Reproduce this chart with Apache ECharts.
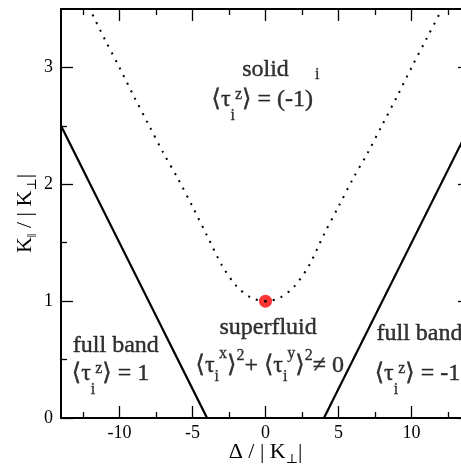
<!DOCTYPE html>
<html>
<head>
<meta charset="utf-8">
<script src="https://cdn.jsdelivr.net/npm/echarts@6/dist/echarts.min.js"></script>
<style>
  html, body { margin: 0; padding: 0; background: #fff; }
  #chart { width: 461px; height: 468px; }
</style>
</head>
<body>
<div id="chart"></div>
<script>
// phase boundaries
const leftBoundX = [-14, -4]
const leftBoundY = [2.5, 0]
const rightBoundX = [4, 14]
const rightBoundY = [0, 2.5]
// dotted solid/superfluid boundary
const solidX = [-12.4, -12, -11, -10, -9, -8, -7, -6, -5, -4, -3, -2, -1, 0, 1, 2, 3, 4, 5, 6, 7, 8, 9, 10, 11, 12, 12.4]
const solidY = [3.58, 3.49, 3.24, 3.0, 2.75, 2.51, 2.27, 2.05, 1.81, 1.56, 1.31, 1.13, 1.03, 1.0, 1.03, 1.13, 1.31, 1.57, 1.81, 2.05, 2.27, 2.51, 2.75, 3.0, 3.24, 3.48, 3.58]
// red point
const pointX = [0]
const pointY = [1]
// ticks
const xMajor = [-10, -5, 0, 5, 10]
const xMinor = [-12.5, -7.5, -2.5, 2.5, 7.5, 12.5]
const yMajor = [0, 1, 2, 3]
const yMinor = [0.5, 1.5, 2.5]
// region labels (centred ones)
const midNoteX = [0, 0, 0.18, 0.29]
const midNoteY = [2.98, 2.72, 0.77, 0.45]
const midNoteText = [
  '{b|solid}',
  '{b|⟨τ}{subA|i}{supA|z}{b|⟩ = (-1)}{expI|i}',
  '{b|superfluid}',
  '{b|⟨τ}{subB|i}{supB|x}{b|⟩}{sq|2}{b|+ ⟨τ}{subB|i}{supB|y}{b|⟩}{sq|2}{b|≠ 0}'
]
// region labels (left aligned ones)
const sideNoteX = [-13.19, -13.26, 7.6, 7.48]
const sideNoteY = [0.62, 0.376, 0.72, 0.376]
const sideNoteText = [
  '{b|full band}',
  '{b|⟨τ}{subA|i}{supA|z}{b|⟩ = 1}',
  '{b|full band}',
  '{b|⟨τ}{subA|i}{supA|z}{b|⟩ = -1}'
]

const serif = "'Liberation Serif', 'DejaVu Serif', serif"
const pairs = (xs, ys) => xs.map((x, i) => [x, ys[i]])

const small = { fontSize: 16, fontFamily: serif, color: '#000', textBorderColor: '#000', textBorderWidth: 0.3 }
const rich = {
  b: { fontSize: 24, fontFamily: serif, color: '#000', lineHeight: 80, textBorderColor: '#000', textBorderWidth: 0.4 },
  subA: Object.assign({}, small, { padding: [32, 0, 0, 0] }),
  supA: Object.assign({}, small, { padding: [0, 0, 10, 0] }),
  subB: Object.assign({}, small, { padding: [22, 0, 0, 0] }),
  supB: Object.assign({}, small, { padding: [0, 0, 24, 0] }),
  sq: Object.assign({}, small, { padding: [0, 0, 20, 0] }),
  expI: Object.assign({}, small, { padding: [0, 0, 50, 2] })
}
const axisRich = {
  n: { fontSize: 22, fontFamily: serif, color: '#000', lineHeight: 40 },
  s: { fontSize: 13, fontFamily: serif, color: '#000', padding: [16, 0, 0, 0] }
}

function xAxisOf(position, ticks, len, withLine, withLabel) {
  return {
    type: 'value',
    position: position,
    min: -14,
    max: 14,
    axisLine: { show: withLine, onZero: false, lineStyle: { color: '#000', width: 2 } },
    axisTick: { show: true, inside: true, length: len, customValues: ticks, lineStyle: { color: '#000', width: 1.3 } },
    axisLabel: withLabel
      ? { show: true, customValues: ticks, color: '#000', fontSize: 18, fontFamily: serif, margin: 6 }
      : { show: false },
    splitLine: { show: false }
  }
}
function yAxisOf(position, ticks, len, withLine, withLabel) {
  return {
    type: 'value',
    position: position,
    min: 0,
    max: 3.5,
    axisLine: { show: withLine, onZero: false, lineStyle: { color: '#000', width: 2 } },
    axisTick: { show: true, inside: true, length: len, customValues: ticks, lineStyle: { color: '#000', width: 1.3 } },
    axisLabel: withLabel
      ? { show: true, customValues: ticks, color: '#000', fontSize: 18, fontFamily: serif, margin: 8 }
      : { show: false },
    splitLine: { show: false }
  }
}

const xAxes = [
  xAxisOf('bottom', xMajor, 12, true, true),
  xAxisOf('bottom', xMinor, 6, false, false),
  xAxisOf('top', xMajor, 12, true, false),
  xAxisOf('top', xMinor, 6, false, false)
]
Object.assign(xAxes[0], {
  name: '{n|Δ / | K}{s|⊥}{n||}',
  nameLocation: 'middle',
  nameGap: 14,
  nameMoveOverlap: false,
  nameTextStyle: { rich: axisRich }
})
const yAxes = [
  yAxisOf('left', yMajor, 12, true, true),
  yAxisOf('left', yMinor, 6, false, false),
  yAxisOf('right', yMajor, 12, true, false),
  yAxisOf('right', yMinor, 6, false, false)
]
Object.assign(yAxes[0], {
  name: '{n|K}{s|‖}{n| / | K}{s|⊥}{n||}',
  nameLocation: 'middle',
  nameRotate: 90,
  nameGap: 16,
  nameMoveOverlap: false,
  nameTextStyle: { rich: axisRich }
})

const noteLabel = {
  show: true,
  position: 'inside',
  verticalAlign: 'middle',
  color: '#000',
  rich: rich
}

const chart = echarts.init(document.getElementById('chart'), null, { renderer: 'canvas' })
chart.setOption({
  backgroundColor: '#fff',
  animation: false,
  grid: { left: 61, right: -9, top: 9, bottom: 50, containLabel: false, outerBoundsMode: 'none' },
  xAxis: xAxes,
  yAxis: yAxes,
  series: [
    {
      name: 'left',
      type: 'line',
      data: pairs(leftBoundX, leftBoundY),
      symbol: 'none',
      lineStyle: { color: '#000', width: 2.2 }
    },
    {
      name: 'right',
      type: 'line',
      data: pairs(rightBoundX, rightBoundY),
      symbol: 'none',
      lineStyle: { color: '#000', width: 2.2 }
    },
    {
      name: 'point',
      type: 'scatter',
      data: pairs(pointX, pointY),
      symbolSize: 13,
      itemStyle: { color: '#ff0000' },
      z: 3
    },
    {
      name: 'solid',
      type: 'line',
      data: pairs(solidX, solidY),
      symbol: 'none',
      smooth: 0.3,
      clip: true,
      lineStyle: { color: '#000', width: 2, type: [2, 6.5] },
      z: 4
    },
    {
      name: 'pointCore',
      type: 'scatter',
      data: pairs(pointX, pointY),
      symbolSize: 3,
      itemStyle: { color: '#000' },
      z: 5
    },
    {
      name: 'midNotes',
      type: 'scatter',
      data: pairs(midNoteX, midNoteY),
      symbolSize: 0,
      silent: true,
      itemStyle: { color: '#000' },
      label: Object.assign({}, noteLabel, { align: 'center', formatter: p => midNoteText[p.dataIndex] })
    },
    {
      name: 'sideNotes',
      type: 'scatter',
      data: pairs(sideNoteX, sideNoteY),
      symbolSize: 0,
      silent: true,
      itemStyle: { color: '#000' },
      label: Object.assign({}, noteLabel, { align: 'left', formatter: p => sideNoteText[p.dataIndex] })
    }
  ]
})
</script>
</body>
</html>
